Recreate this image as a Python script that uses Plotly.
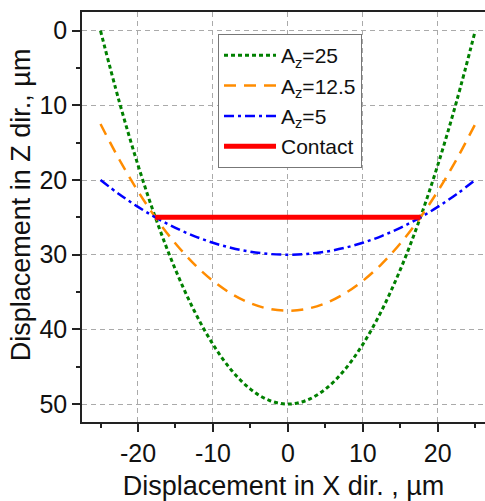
import plotly.graph_objects as go

# Lateral position (µm) and vertical displacement (µm) for each amplitude
x_pos = [-25, -22.5, -20, -17.5, -15, -12.5, -10, -7.5, -5, -2.5, 0,
         2.5, 5, 7.5, 10, 12.5, 15, 17.5, 20, 22.5, 25]
z_a25 = [0, 9.5, 18, 25.5, 32, 37.5, 42, 45.5, 48, 49.5, 50,
         49.5, 48, 45.5, 42, 37.5, 32, 25.5, 18, 9.5, 0]
z_a125 = [12.5, 17.25, 21.5, 25.25, 28.5, 31.25, 33.5, 35.25, 36.5, 37.25, 37.5,
          37.25, 36.5, 35.25, 33.5, 31.25, 28.5, 25.25, 21.5, 17.25, 12.5]
z_a5 = [20, 21.9, 23.6, 25.1, 26.4, 27.5, 28.4, 29.1, 29.6, 29.9, 30,
        29.9, 29.6, 29.1, 28.4, 27.5, 26.4, 25.1, 23.6, 21.9, 20]
contact_x = [-17.7, 17.7]
contact_z = [25, 25]

# Tick values and labels (plain hyphen for negatives)
x_ticks = [-20, -10, 0, 10, 20]
x_ticklabels = ["-20", "-10", "0", "10", "20"]
z_ticks = [0, 10, 20, 30, 40, 50]
z_ticklabels = ["0", "10", "20", "30", "40", "50"]

FONT = "Liberation Sans, Arial, sans-serif"

fig = go.Figure()
fig.add_trace(go.Scatter(x=x_pos, y=z_a25, mode="lines", name="A<sub>z</sub>=25",
                         line=dict(color="#008000", width=3, dash="4px,3px", shape="spline")))
fig.add_trace(go.Scatter(x=x_pos, y=z_a125, mode="lines", name="A<sub>z</sub>=12.5",
                         line=dict(color="#FF8C00", width=2.5, dash="12px,8px", shape="spline")))
fig.add_trace(go.Scatter(x=x_pos, y=z_a5, mode="lines", name="A<sub>z</sub>=5",
                         line=dict(color="#0000FF", width=2.5, dash="10px,4px,3px,4px", shape="spline")))
fig.add_trace(go.Scatter(x=contact_x, y=contact_z, mode="lines", name="Contact",
                         line=dict(color="#FF0000", width=5)))

axis_common = dict(
    showline=True, linecolor="#222", linewidth=1.5,
    ticks="outside", ticklen=8, tickwidth=1.5, tickcolor="#222",
    showgrid=True, gridcolor="#AAAAAA", griddash="5px,4px", gridwidth=1,
    zeroline=False, tickfont=dict(family=FONT, size=25, color="#111"),
    minor=dict(ticklen=4, tickwidth=1.5, tickcolor="#222", dtick=5, tick0=0,
               showgrid=False, ticks="outside"),
)

fig.update_xaxes(**axis_common, range=[-27.47, 26.3], mirror=True,
                 tickmode="array", tickvals=x_ticks, ticktext=x_ticklabels,
                 title=dict(text="Displacement in X dir. , µm", standoff=14,
                            font=dict(family=FONT, size=27, color="#111")))
fig.update_yaxes(**axis_common, range=[52.4, -2.5],
                 tickmode="array", tickvals=z_ticks, ticktext=z_ticklabels)

# Vertical axis title, placed slightly above the plot's mid-height
fig.add_annotation(text="Displacement in Z dir., µm", textangle=-90,
                   xref="paper", yref="paper", x=-0.151, y=0.529,
                   xanchor="center", yanchor="middle", showarrow=False,
                   font=dict(family=FONT, size=27, color="#111"))

fig.update_layout(
    width=485, height=501,
    margin=dict(l=82, r=0, t=12, b=79),
    paper_bgcolor="white", plot_bgcolor="white",
    showlegend=True,
    legend=dict(x=0.3375, y=0.946, xanchor="left", yanchor="top",
                bgcolor="white", bordercolor="#777", borderwidth=1,
                font=dict(family=FONT, size=21, color="#111"),
                tracegroupgap=0, itemwidth=52),
)

fig.write_html("out.html")
